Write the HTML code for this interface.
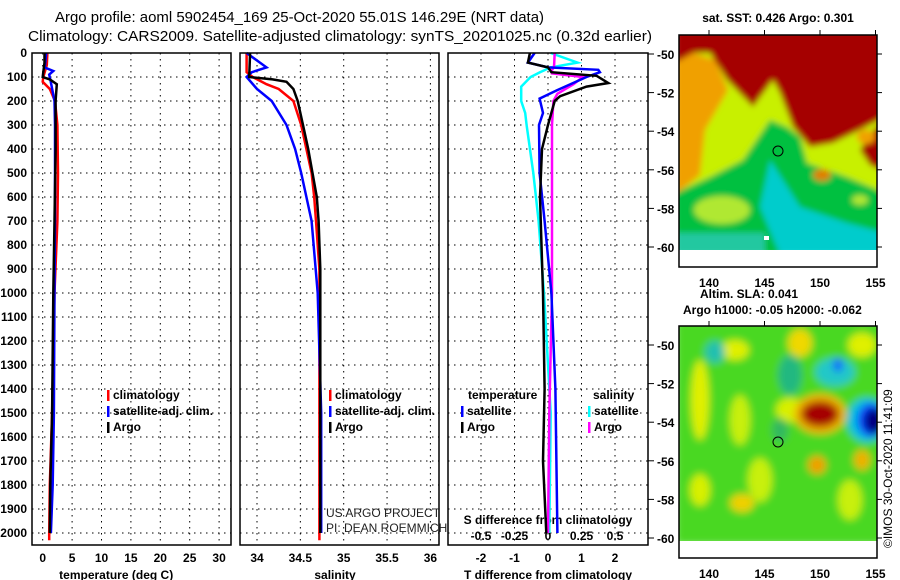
<!DOCTYPE html>
<html><head><meta charset="utf-8"><style>
body{margin:0;background:#fff;}
svg{display:block;font-family:"Liberation Sans",sans-serif;}
.tk{font-size:12px;font-weight:bold;}
.lg{font-size:12px;font-weight:bold;}
</style></head><body>
<svg id="chart" width="900" height="580" viewBox="0 0 900 580" xmlns="http://www.w3.org/2000/svg">
<defs>
<filter id="bl" x="-10%" y="-10%" width="120%" height="120%"><feGaussianBlur stdDeviation="3"/></filter>
<filter id="bl2" x="-20%" y="-20%" width="140%" height="140%"><feGaussianBlur stdDeviation="4"/></filter>
<clipPath id="c1"><rect x="679" y="35" width="198" height="215"/></clipPath>
<clipPath id="c2"><rect x="679" y="326" width="198" height="215"/></clipPath>
</defs>
<text x="55" y="22" font-size="15" textLength="489" lengthAdjust="spacingAndGlyphs">Argo profile: aoml 5902454_169 25-Oct-2020 55.01S 146.29E (NRT data)</text>
<text x="28" y="41" font-size="15" textLength="624" lengthAdjust="spacingAndGlyphs">Climatology: CARS2009. Satellite-adjusted climatology: synTS_20201025.nc (0.32d earlier)</text>

<!-- top map SST -->
<g clip-path="url(#c1)">
<g filter="url(#bl)">
<rect x="675" y="30" width="210" height="225" fill="#c8f000"/>
<polygon points="675,60 693,53 715,60 728,90 705,130 700,175 675,195" fill="#f0a000"/>
<polygon points="675,30 885,30 885,117 860,130 833,143 810,147 793,127 780,93 773,80 753,107 727,80 710,53 693,53 675,63" fill="#a50000"/>
<polygon points="885,117 885,172 870,165 860,150 870,135" fill="#a50000"/>
<ellipse cx="866" cy="137" rx="9" ry="7" fill="#f0a000"/>
<polygon points="770,120 743,160 710,177 675,193 675,255 885,255 885,193 847,177 807,163 800,137 787,127" fill="#00c040"/>
<ellipse cx="722" cy="210" rx="28" ry="14" fill="#b0e830"/>
<polygon points="770,160 800,207 847,223 885,233 885,255 780,255 760,207" fill="#00cccc"/>
<rect x="675" y="233" width="90" height="22" fill="#20c8a0"/>
<ellipse cx="822" cy="175" rx="9" ry="6" fill="#e08000"/>
<ellipse cx="860" cy="200" rx="8" ry="5" fill="#b0e830"/>
</g>
<rect x="764" y="236" width="5" height="4" fill="#fff"/>
</g>
<circle cx="778" cy="151" r="5" fill="none" stroke="#000"/>
<rect x="679" y="35" width="198" height="232" fill="none" stroke="#000" stroke-width="1.5"/>
<text class="tk" x="778" y="22" text-anchor="middle">sat. SST: 0.426 Argo: 0.301</text>

<!-- bottom map SLA -->
<g clip-path="url(#c2)">
<g filter="url(#bl2)">
<rect x="675" y="320" width="210" height="225" fill="#48d820"/>
<ellipse cx="700" cy="400" rx="9" ry="40" fill="#e0f000"/>
<ellipse cx="735" cy="350" rx="14" ry="10" fill="#e0f000"/>
<ellipse cx="740" cy="420" rx="10" ry="25" fill="#c8f010"/>
<ellipse cx="800" cy="343" rx="12" ry="14" fill="#f0d800"/>
<ellipse cx="862" cy="345" rx="14" ry="12" fill="#e0f000"/>
<ellipse cx="790" cy="410" rx="14" ry="12" fill="#d8f000"/>
<ellipse cx="760" cy="480" rx="12" ry="22" fill="#c8f010"/>
<ellipse cx="742" cy="503" rx="12" ry="9" fill="#f0d000"/>
<ellipse cx="700" cy="490" rx="10" ry="16" fill="#d8f000"/>
<ellipse cx="850" cy="500" rx="12" ry="20" fill="#c8f010"/>
<ellipse cx="715" cy="352" rx="10" ry="11" fill="#20c0b0"/>
<ellipse cx="790" cy="375" rx="12" ry="20" fill="#20b880"/>
<ellipse cx="780" cy="430" rx="8" ry="12" fill="#30b860"/>
<ellipse cx="835" cy="372" rx="20" ry="14" fill="#20c8c8"/>
<ellipse cx="838" cy="365" rx="5" ry="7" fill="#1060ff"/>
<ellipse cx="820" cy="414" rx="26" ry="20" fill="#f0b000"/>
<ellipse cx="820" cy="414" rx="19" ry="13" fill="#a50000"/>
<ellipse cx="867" cy="420" rx="20" ry="22" fill="#00c0e0"/>
<ellipse cx="871" cy="420" rx="14" ry="17" fill="#1040ff"/>
<ellipse cx="874" cy="421" rx="10" ry="13" fill="#000080"/>
<ellipse cx="817" cy="465" rx="9" ry="9" fill="#f0a000"/>
<ellipse cx="862" cy="460" rx="8" ry="10" fill="#f0b000"/>
</g>
</g>
<circle cx="778" cy="442" r="5" fill="none" stroke="#000"/>
<rect x="679" y="326" width="198" height="232" fill="none" stroke="#000" stroke-width="1.5"/>
<text class="tk" x="700" y="298">Altim. SLA: 0.041</text>
<text class="tk" x="683" y="314">Argo h1000: -0.05 h2000: -0.062</text>
<text font-size="12" transform="translate(892,548) rotate(-90)">©IMOS 30-Oct-2020 11:41:09</text>

<g id="plots"></g>

<text x="326" y="517" font-size="12" fill="#222">US ARGO PROJECT</text>
<text x="326" y="532" font-size="12" fill="#222">PI: DEAN ROEMMICH</text>
</svg>
<script>
// ---- data ----
const depthTicks=[0,100,200,300,400,500,600,700,800,900,1000,1100,1200,1300,1400,1500,1600,1700,1800,1900,2000];
const tempTicks=[0,5,10,15,20,25,30];
const salTicks=[34,34.5,35,35.5,36];
const salTickLabels=["34","34.5","35","35.5","36"];
const tdTicks=[-2,-1,0,1,2];
const sdTicks=[-0.5,-0.25,0,0.25,0.5];
const latTicks=[-50,-52,-54,-56,-58,-60];
const lonTicks=[140,145,150,155];

const tArgoDepth=[0,40,80,100,110,130,200,400,700,1000,1500,1800,2000];
const tArgoVal=[0.3,0.3,0.1,0.0,1.2,2.4,2.2,2.2,2.0,1.8,1.6,1.3,1.2];
const tClimDepth=[0,50,100,120,150,200,300,500,700,1000,1500,1800,2000,2030];
const tClimVal=[0.8,0.7,0.1,0.0,1.2,2.1,2.5,2.6,2.5,2.0,1.6,1.2,1.1,1.1];
const tSatDepth=[0,50,60,75,90,110,200,300,700,1000,1500,1800,2000];
const tSatVal=[0.6,0.4,0.3,1.8,1.1,1.3,2.0,2.1,2.1,2.0,1.9,1.7,1.4];

const sArgoDepth=[0,100,110,120,150,200,300,400,500,600,700,900,1500,2000];
const sArgoVal=[33.92,33.91,34.18,34.34,34.42,34.47,34.53,34.59,34.64,34.69,34.71,34.73,34.73,34.73];
const sClimDepth=[0,80,100,130,150,200,300,400,500,600,700,900,1500,2030];
const sClimVal=[33.88,33.88,33.95,34.11,34.25,34.42,34.51,34.57,34.63,34.66,34.68,34.72,34.72,34.72];
const sSatDepth=[0,60,80,100,150,200,300,400,500,600,700,1000,1500,2000];
const sSatVal=[33.88,34.11,33.94,33.88,34.0,34.17,34.34,34.44,34.51,34.57,34.63,34.70,34.74,34.74];

const dTArgoDepth=[0,40,60,80,95,125,140,180,200,300,400,600,1000,1400,1700,2000];
const dTArgoVal=[-0.54,-0.6,0,0.1,1.45,1.8,1.15,0.36,0.2,0,-0.18,-0.24,-0.15,-0.1,-0.15,-0.05];
const dTSatDepth=[0,40,60,70,80,100,155,190,250,300,500,700,1000,1400,2000];
const dTSatVal=[-0.4,-0.6,0,1.5,1.55,1.15,0.27,-0.25,-0.15,-0.27,-0.25,-0.1,0.1,0.22,0.28];
const dSArgoDepth=[0,60,70,85,100,130,170,200,300,1000,1500,2000];
const dSArgoVal=[0.05,0.045,0.03,0.03,0.26,0.19,0.07,0.04,0.03,0.03,0.01,0.0];
const dSSatDepth=[0,40,60,80,100,140,200,250,300,500,700,1000,1500,2000];
const dSSatVal=[0.02,0.22,0.02,-0.06,-0.13,-0.2,-0.2,-0.17,-0.16,-0.11,-0.07,-0.03,0.02,0.01];

// ---- axes ----
const Y0=53, YS=0.24;
function yD(d){return Y0+d*YS;}
function xT(t){return 42.7+t*5.88;}
function xS(s){return 257+(s-34)*86.7;}
function xTD(t){return 548+t*33.5;}
function xSD(s){return 548+s*134;}
function yLat(l){return 54+(-50-l)*19.3;}
function xLon(l){return 709+(l-140)*11.1;}

const NS="http://www.w3.org/2000/svg";
const root=document.getElementById('plots');
function mk(tag,attrs,parent){const e=document.createElementNS(NS,tag);for(const k in attrs)e.setAttribute(k,attrs[k]);(parent||root).appendChild(e);return e;}

const panels=[{x0:32,x1:231,name:'temperature-panel'},{x0:240,x1:439,name:'salinity-panel'},{x0:448,x1:648,name:'difference-panel'}];
const yBot=545;
panels.forEach(p=>{
  const g=mk('g',{});
  
  
  depthTicks.forEach(d=>{
    const l=mk('line',{x1:p.x0,x2:p.x1,y1:yD(d),y2:yD(d),stroke:'#000','stroke-width':1,'stroke-dasharray':'1.5,4.5'},g);
    
    
  });
  p.g=g;
});
function vgrid(p,xs){xs.forEach(x=>{
  const l=mk('line',{x1:x,x2:x,y1:Y0,y2:yBot,stroke:'#000','stroke-width':1,'stroke-dasharray':'1.5,4.5'},p.g);
  
  
});}
vgrid(panels[0],tempTicks.map(xT));
vgrid(panels[1],salTicks.map(xS));
vgrid(panels[2],tdTicks.map(xTD));

// depth labels
depthTicks.forEach(d=>{
  const t=mk('text',{x:27,y:yD(d)+4,'text-anchor':'end',class:'tk'});
  t.textContent=d;
  
  
});
function xlabels(ticks,labels,fx,y){ticks.forEach((v,i)=>{
  const t=mk('text',{x:fx(v),y:y,'text-anchor':'middle',class:'tk'});
  t.textContent=labels[i];
  
  
});}
xlabels(tempTicks,tempTicks.map(String),xT,562);
xlabels(salTicks,salTickLabels,xS,562);
xlabels(tdTicks,tdTicks.map(String),xTD,562);
xlabels(sdTicks,["-0.5","-0.25","0","0.25","0.5"],xSD,540);

function axTitle(txt,x,y,name){const t=mk('text',{x:x,y:y,'text-anchor':'middle',class:'tk'});t.textContent=txt;
  
  }
axTitle('temperature (deg C)',xT(12.5),579,'temperature-axis-title');
axTitle('salinity',xS(34.9),579,'salinity-axis-title');
axTitle('T difference from climatology',548,579,'t-diff-axis-title');
axTitle('S difference from climatology',548,524,'s-diff-axis-title');

// series
function series(depths,vals,fx,color,name){
  const pts=depths.map((d,i)=>fx(vals[i]).toFixed(1)+','+yD(d).toFixed(1)).join(' ');
  const pl=mk('polyline',{points:pts,fill:'none',stroke:color,'stroke-width':2.5,'stroke-linejoin':'miter'});
  
  
}
series(tClimDepth,tClimVal,xT,'#ff0000','temp-climatology-line');
series(tSatDepth,tSatVal,xT,'#0000ff','temp-satellite-line');
series(tArgoDepth,tArgoVal,xT,'#000','temp-argo-line');
series(sClimDepth,sClimVal,xS,'#ff0000','sal-climatology-line');
series(sSatDepth,sSatVal,xS,'#0000ff','sal-satellite-line');
series(sArgoDepth,sArgoVal,xS,'#000','sal-argo-line');
series(dSSatDepth,dSSatVal,xSD,'#00ffff','sdiff-satellite-line');
series(dSArgoDepth,dSArgoVal,xSD,'#ff00ff','sdiff-argo-line');
series(dTSatDepth,dTSatVal,xTD,'#0000ff','tdiff-satellite-line');
series(dTArgoDepth,dTArgoVal,xTD,'#000','tdiff-argo-line');

// frames
panels.forEach(p=>{const r=mk('rect',{x:p.x0,y:Y0,width:p.x1-p.x0,height:yBot-Y0,fill:'none',stroke:'#000','stroke-width':1.5});
  
  });

// legends
function leg(x,y,color,txt){
  const b=mk('rect',{x:x,y:y-9,width:2.5,height:11,fill:color});
  
  
  const t=mk('text',{x:x+6,y:y,class:'lg'});t.textContent=txt;
  
  
}
leg(107,399,'#ff0000','climatology');leg(107,415,'#0000ff','satellite-adj. clim.');leg(107,431,'#000','Argo');
leg(329,399,'#ff0000','climatology');leg(329,415,'#0000ff','satellite-adj. clim.');leg(329,431,'#000','Argo');
const th=mk('text',{x:468,y:399,class:'lg'});th.textContent='temperature';


const sh=mk('text',{x:593,y:399,class:'lg'});sh.textContent='salinity';


leg(461,415,'#0000ff','satellite');leg(461,431,'#000','Argo');
leg(588,415,'#00ffff','satellite');leg(588,431,'#ff00ff','Argo');

// map axes
[[0,'sst'],[291,'sla']].forEach(([off,nm])=>{
  latTicks.forEach(l=>{
    const y=yLat(l)+off;
    mk('line',{x1:877,x2:882,y1:y,y2:y,stroke:'#000'});
    mk('line',{x1:648,x2:654,y1:y,y2:y,stroke:'#000'});
    const t=mk('text',{x:657,y:y+5,class:'tk'});t.textContent=l;
    
    
  });
  lonTicks.forEach(l=>{
    const x=xLon(l);
    mk('line',{x1:x,x2:x,y1:35+off,y2:30+off,stroke:'#000'});
    const t=mk('text',{x:x,y:287+off,'text-anchor':'middle',class:'tk'});t.textContent=l;
    
    
  });
});
</script>
</body></html>
